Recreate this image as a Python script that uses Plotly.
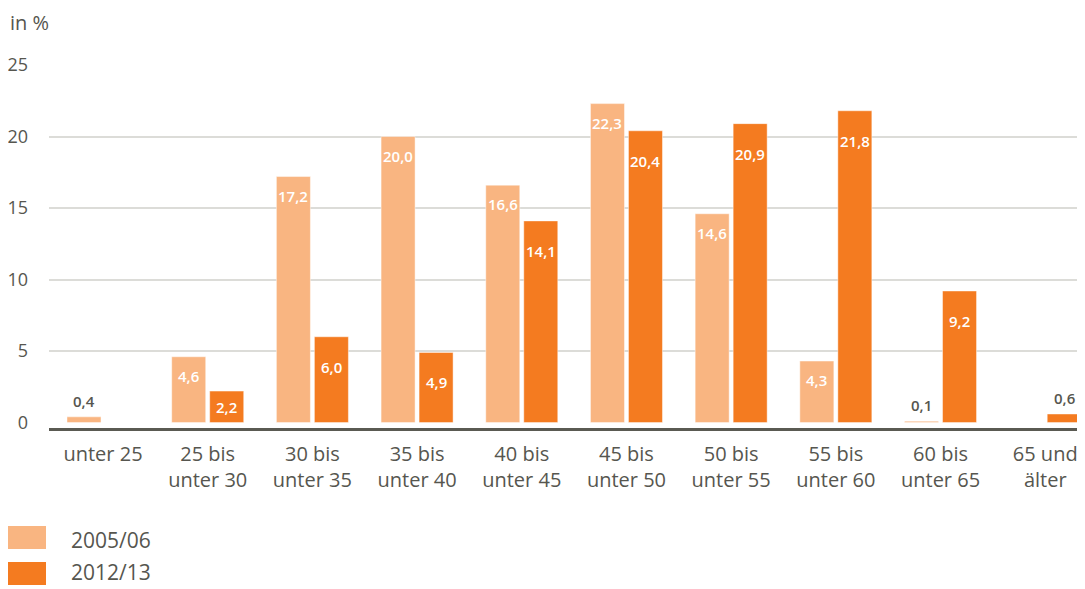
import plotly.graph_objects as go

# Daten
categories = ["unter 25", "25 bis<br>unter 30", "30 bis<br>unter 35", "35 bis<br>unter 40",
              "40 bis<br>unter 45", "45 bis<br>unter 50", "50 bis<br>unter 55", "55 bis<br>unter 60",
              "60 bis<br>unter 65", "65 und<br>älter"]
values_2005 = [0.4, 4.6, 17.2, 20.0, 16.6, 22.3, 14.6, 4.3, 0.1, None]
values_2012 = [None, 2.2, 6.0, 4.9, 14.1, 20.4, 20.9, 21.8, 9.2, 0.6]
series_names = ["2005/06", "2012/13"]
y_ticks = [0, 5, 10, 15, 20, 25]

LIGHT = "#f9b581"
DARK = "#f47b20"
TEXT = "#56564f"
FONT = "Open Sans"

# Seite hat 8px Rand -> Figur entsprechend kleiner
OFF = 8
W, H = 1085 - OFF, 589 - OFF
L, R, T, B = 49 - OFF, 0, 65 - OFF, 161
PW, PH = W - L - R, H - T - B


def px_x(p):
    return (p - OFF - L) / PW


def px_y(p):
    return (H - B - (p - OFF)) / PH


fig = go.Figure()
for name, vals, color in [(series_names[0], values_2005, LIGHT), (series_names[1], values_2012, DARK)]:
    fig.add_trace(go.Bar(
        x=categories, y=vals, name=name,
        marker=dict(color=color, line=dict(color="rgba(255,255,255,0.45)", width=1)),
        showlegend=False, hoverinfo="skip",
    ))

# Werte-Beschriftungen
annotations = []
for vals, shift, inner_off in [(values_2005, -19, -19), (values_2012, 19, -30)]:
    for cat, v in zip(categories, vals):
        if v is None:
            continue
        label = f"{v:.1f}".replace(".", ",")
        if v >= 1:
            off = max(inner_off, -v * 14.3 / 2) if v < 7 else inner_off
            annotations.append(dict(x=cat, y=v, xref="x", yref="y", text=label, showarrow=False,
                                    xshift=shift, yshift=off, yanchor="middle",
                                    font=dict(family=FONT, size=15, color="white", weight=600)))
        else:
            annotations.append(dict(x=cat, y=v, xref="x", yref="y", text=label, showarrow=False,
                                    xshift=shift, yshift=4, yanchor="bottom",
                                    font=dict(family=FONT, size=15, color=TEXT, weight=600)))

annotations.append(dict(x=px_x(8), y=px_y(23), xref="paper", yref="paper", text="in %",
                        showarrow=False, xanchor="left", yanchor="middle",
                        font=dict(family=FONT, size=20, color=TEXT)))

# Legende
shapes = []
for i, (name, color) in enumerate(zip(series_names, [LIGHT, DARK])):
    top = 526 + i * 36
    shapes.append(dict(type="rect", xref="paper", yref="paper",
                       x0=px_x(8), x1=px_x(46), y0=px_y(top), y1=px_y(top + 23),
                       fillcolor=color, line=dict(width=0)))
    annotations.append(dict(x=px_x(70), y=px_y(top + 14 - i * 4), xref="paper", yref="paper",
                            text=name, showarrow=False, xanchor="left", yanchor="middle",
                            borderpad=0, font=dict(family=FONT, size=21, color=TEXT)))

fig.update_layout(
    width=W, height=H,
    margin=dict(l=L, r=R, t=T, b=B),
    paper_bgcolor="white", plot_bgcolor="white",
    barmode="group", bargap=0.274, bargroupgap=0.105,
    font=dict(family=FONT, color=TEXT),
    xaxis=dict(range=[-0.516, 9.38], showline=True, linecolor="#5a5a52", linewidth=3,
               ticks="", tickfont=dict(size=20, color=TEXT), ticklabelstandoff=6,
               showgrid=False),
    yaxis=dict(range=[-0.38, 25], tickvals=y_ticks, showgrid=True, gridcolor="#dcdcd8",
               gridwidth=1.5, zeroline=True, zerolinecolor="white", zerolinewidth=1,
               tickfont=dict(size=18, color=TEXT), ticks="", ticklabelstandoff=20),
    annotations=annotations, shapes=shapes,
)

fig.write_html("out.html")
